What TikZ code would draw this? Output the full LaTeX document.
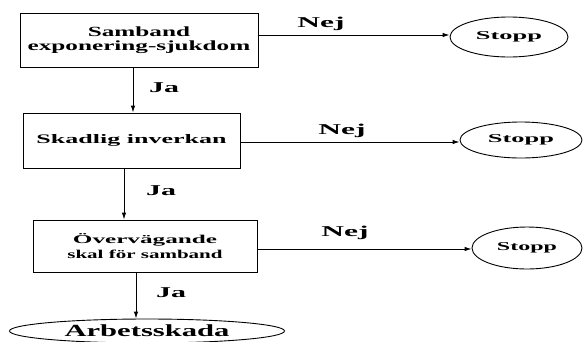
\documentclass[tikz,border=0pt]{standalone}
\usepackage{fontspec}
\setmainfont{Liberation Serif}
\usepackage{graphicx}
\usetikzlibrary{arrows.meta,shapes.geometric}
\newcommand\sx[2]{\scalebox{#1}[1]{#2}}
\begin{document}
\begin{tikzpicture}[x=1pt,y=-1pt, line width=0.9pt,
  box/.style={draw, rectangle, inner sep=0pt, align=center},
  oval/.style={draw, ellipse, inner sep=0pt},
  lbl/.style={inner sep=0pt, font=\fontsize{15}{15}\selectfont\bfseries},
  stp/.style={oval, font=\fontsize{12}{12}\selectfont\bfseries},
  arr/.style={-{Latex[length=7pt,width=4.5pt]}}]
\useasboundingbox (0,0) rectangle (583,341);
% boxes
\node[box, minimum width=238pt, minimum height=54pt,
  font=\fontsize{14}{14}\selectfont\bfseries] (b1) at (139,40)
  {\sx{1.8}{Samband}\\\sx{1.8}{exponering-sjukdom}};
\node[box, minimum width=217pt, minimum height=55pt,
  font=\fontsize{13}{13}\selectfont\bfseries] (b2) at (131.5,140.5)
  {\sx{2.0}{Skadlig inverkan}};
\node[box, minimum width=224pt, minimum height=52pt,
  font=\fontsize{12}{15}\selectfont\bfseries] (b3) at (145,246)
  {\sx{2.1}{Övervägande}\\\sx{1.75}{skal för samband}};
% stop ovals
\node[stp, minimum width=118pt, minimum height=40pt] (s1) at (509,37) {\sx{2.2}{Stopp}};
\node[stp, minimum width=122pt, minimum height=36pt] (s2) at (521,140) {\sx{2.2}{Stopp}};
\node[stp, minimum width=110pt, minimum height=42pt] (s3) at (527,248) {\sx{2.0}{Stopp}};
% final oval
\node[oval, minimum width=275pt, minimum height=24pt,
  font=\fontsize{17}{17}\selectfont\bfseries] (a) at (147,331) {\sx{1.8}{Arbetsskada}};
% guide coordinates
\coordinate (x1) at (133,0);
\coordinate (x2) at (124,0);
\coordinate (x3) at (136,0);
\coordinate (y1) at (0,35);
\coordinate (y2) at (0,142);
\coordinate (y3) at (0,249);
% vertical arrows
\draw[arr] (x1 |- b1.south) -- (x1 |- b2.north);
\draw[arr] (x2 |- b2.south) -- (x2 |- b3.north);
\draw[arr] (x3 |- b3.south) -- (x3 |- a.north);
% horizontal arrows
\draw[arr] (b1.east |- y1) -- (s1.west |- y1);
\draw[arr] (b2.east |- y2) -- (s2.west |- y2);
\draw[arr] (b3.east |- y3) -- (s3.west |- y3);
% labels
\node[lbl] (j1) at (164,88) {\sx{2.0}{Ja}};
\node[lbl] (j2) at (161,191) {\sx{2.0}{Ja}};
\node[lbl] (j3) at (171,293) {\sx{2.0}{Ja}};
\node[lbl] (n1) at (321,24) {\sx{2.1}{Nej}};
\node[lbl] (n2) at (342,131) {\sx{2.1}{Nej}};
\node[lbl] (n3) at (345,233) {\sx{2.1}{Nej}};
\end{tikzpicture}
\end{document}
